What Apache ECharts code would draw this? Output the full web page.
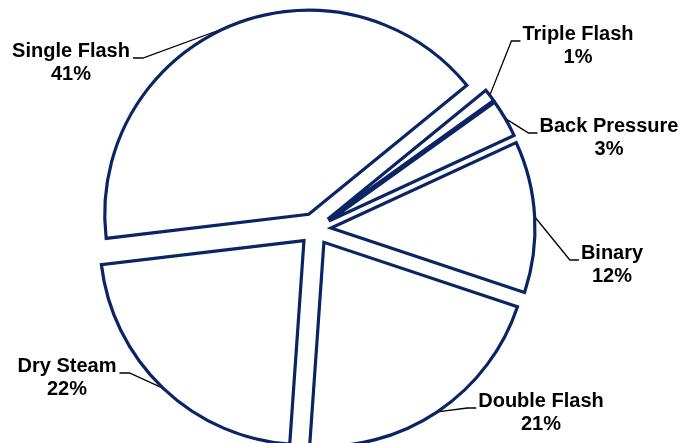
<!DOCTYPE html>
<html>
<head>
<meta charset="utf-8">
<script src="https://cdn.jsdelivr.net/npm/echarts@6/dist/echarts.min.js"></script>
<style>
  html, body { margin: 0; padding: 0; background: #ffffff; }
  #chart { width: 685px; height: 443px; }
</style>
</head>
<body>
<div id="chart"></div>
<script>
// Geothermal power plant types, share of installed capacity (%)
const plantTypes = ['Triple Flash', 'Back Pressure', 'Binary', 'Double Flash', 'Dry Steam', 'Single Flash'];
const sharePercent = [1, 3, 12, 21, 22, 41];

// Where each two-line label block is centred, and the side its leader enters from
const labelSpots = {
  'Triple Flash':  { x: 578, y: 46,  side: 'left' },
  'Back Pressure': { x: 609, y: 138, side: 'left' },
  'Binary':        { x: 612, y: 265, side: 'left' },
  'Double Flash':  { x: 541, y: 413, side: 'left' },
  'Dry Steam':     { x: 67,  y: 378, side: 'right' },
  'Single Flash':  { x: 71,  y: 63,  side: 'right' }
};

const EXPLODE = 16;          // distance every slice is pulled out from the centre
const NAVY = '#0a2464';
const PIE_CENTER = [315, 229];
const PIE_RADIUS = 204;
const START_ANGLE = 39.2;

const chart = echarts.init(document.getElementById('chart'), null, { renderer: 'canvas' });

// Leader: from the middle of the slice's pulled-out arc to a short horizontal stub beside the label
function leaderFor(params) {
  const spot = labelSpots[plantTypes[params.dataIndex]];
  const w = params.labelRect.width;
  const stubY = spot.y - 5;
  let start = params.labelLinePoints ? params.labelLinePoints[0] : [spot.x, spot.y];
  try {
    const lay = chart.getModel().getSeriesByIndex(params.seriesIndex).getData().getItemLayout(params.dataIndex);
    const mid = (lay.startAngle + lay.endAngle) / 2;
    start = [
      lay.cx + Math.cos(mid) * (EXPLODE + lay.r),
      lay.cy + Math.sin(mid) * (EXPLODE + lay.r)
    ];
  } catch (e) { /* keep library default */ }
  let edge, knee;
  if (spot.side === 'left') {
    edge = spot.x - w / 2 - 2;
    knee = edge - 9;
  } else {
    edge = spot.x + w / 2 + 3;
    knee = edge + 10;
  }
  return [start, [knee, stubY], [edge, stubY]];
}

const pieData = plantTypes.map((n, i) => ({ name: n, value: sharePercent[i] }));

chart.setOption({
  animation: false,
  series: [
    {
      // the exploded slices
      type: 'pie',
      center: PIE_CENTER,
      radius: PIE_RADIUS,
      startAngle: START_ANGLE,
      clockwise: true,
      selectedMode: 'multiple',
      selectedOffset: EXPLODE,
      silent: true,
      itemStyle: { color: '#ffffff', borderColor: NAVY, borderWidth: 3.2, borderJoin: 'miter' },
      select: { itemStyle: { color: '#ffffff', borderColor: NAVY, borderWidth: 3.2 } },
      emphasis: { disabled: true },
      label: { show: false },
      labelLine: { show: false },
      data: pieData.map(d => Object.assign({ selected: true }, d))
    },
    {
      // same slices, invisible, carrying the name / percent labels
      type: 'pie',
      center: PIE_CENTER,
      radius: PIE_RADIUS,
      startAngle: START_ANGLE,
      clockwise: true,
      silent: true,
      avoidLabelOverlap: false,
      itemStyle: { color: 'rgba(0,0,0,0)', borderWidth: 0 },
      emphasis: { disabled: true },
      label: {
        show: true,
        position: 'outside',
        formatter: p => p.name + '\n' + p.value + '%',
        color: '#000000',
        fontFamily: '"Liberation Sans", Arial, sans-serif',
        fontWeight: 'bold',
        fontSize: 20,
        lineHeight: 23,
        align: 'center'
      },
      labelLine: { show: true, lineStyle: { color: '#000000', width: 1.3 } },
      labelLayout: function (params) {
        const spot = labelSpots[plantTypes[params.dataIndex]];
        return {
          x: spot.x,
          y: spot.y,
          align: 'center',
          verticalAlign: 'middle',
          labelLinePoints: leaderFor(params)
        };
      },
      data: pieData
    }
  ]
});
</script>
</body>
</html>
